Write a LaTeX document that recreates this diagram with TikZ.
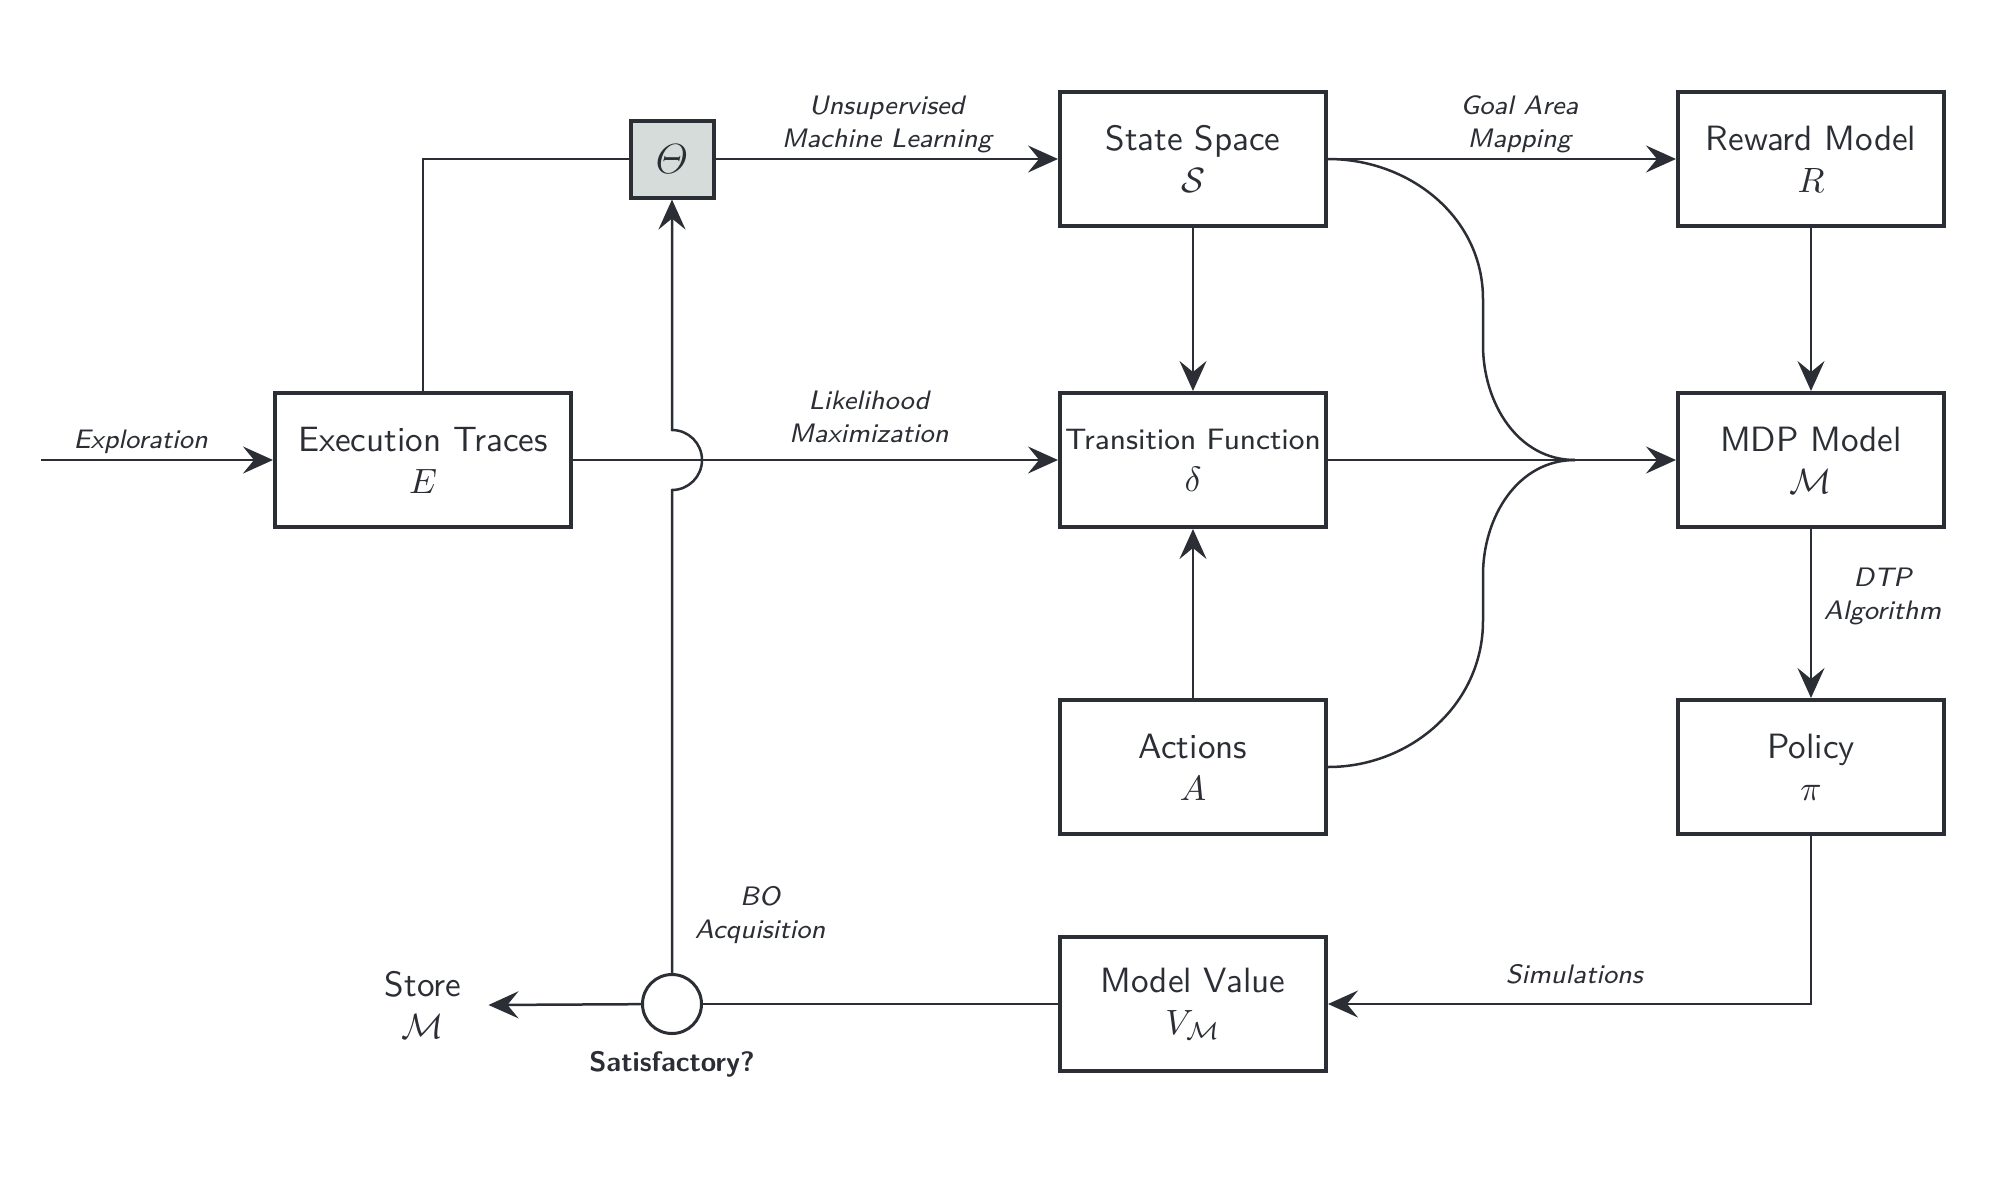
\documentclass[tikz,border=0pt]{standalone}
\usepackage{mathtools}
\usepackage{tikz}
\usetikzlibrary{arrows.meta}
\definecolor{ink}{HTML}{2B2E34}
\definecolor{thetagray}{HTML}{D6DCDA}

\begin{document}
\begin{tikzpicture}[line width=0.25mm, color=ink, >={Stealth[length=3mm,width=2.7mm,inset=1.1mm]},
              blk/.style={draw, line width=0.4mm, minimum width=2.66cm, minimum height=1.34cm, align=center, font=\sffamily},
              lbl/.style={font=\sffamily\itshape\fontsize{7.6}{9.5}\selectfont, align=center}]
              \useasboundingbox (0,0) rectangle (19.99,-11.77);

              \node[blk, minimum width=2.96cm] (exe) at (4.23,-4.60) {Execution Traces\\$E$};
              \node[blk, fill=thetagray, minimum width=0.83cm, minimum height=0.77cm, inner sep=0pt] (th) at (6.72,-1.59) {\large$\varTheta$};
              \node[blk] (ss) at (11.93,-1.59) {State Space\\$\mathcal{S}$};
              \node[blk] (rm) at (18.11,-1.59) {Reward Model\\$R$};
              \node[blk, inner xsep=0.5pt] (tf) at (11.93,-4.60) {{\fontsize{8.4}{10}\selectfont Transition Function}\\$\delta$};
              \node[blk] (mdp) at (18.11,-4.60) {MDP Model\\$\mathcal{M}$};
              \node[blk] (act) at (11.93,-7.67) {Actions\\$A$};
              \node[blk] (pol) at (18.11,-7.67) {Policy\\$\pi$};
              \node[blk] (mv) at (11.93,-10.04) {Model Value\\$V_{\mathcal{M}}$};
              \node[circle, draw, line width=0.3mm, minimum size=0.59cm, label={[font=\sffamily\bfseries\footnotesize, label distance=0.3mm]below:Satisfactory?}] (sat) at (6.72,-10.04) {};
              \node[font=\sffamily, align=center, inner xsep=0.26cm] (st) at (4.23,-10.05) {Store\\$\mathcal{M}$};
              \coordinate (expl) at (0.41,-4.60);
              \coordinate (mrg) at (15.75,-4.60);

              \draw[->] (expl) -- node[lbl, above, pos=0.43, yshift=-0.07cm] {Exploration} (exe.west);
              \draw (exe.north) |- (th.west);
              \draw[->] (th.east) -- node[lbl, above, yshift=-0.07cm] {Unsupervised\\Machine Learning} (ss.west);
              \draw[->] (exe.east) -- node[lbl, above, pos=0.61, yshift=0.04cm] {Likelihood\\Maximization} (tf.west);
              \draw[->] (ss.east) -- node[lbl, above, pos=0.55, yshift=-0.07cm] {Goal Area\\Mapping} (rm.west);
              \draw[->] (ss) -- (tf);
              \draw[->] (rm) -- (mdp);
              \draw[->] (act) -- (tf);
              \draw[->] (tf) -- (mdp);
              \draw[->] (mdp) -- node[lbl, right, pos=0.4] {DTP\\Algorithm} (pol);
              \draw[->] (pol.south) |- node[lbl, above, pos=0.745, yshift=0.07cm] {Simulations} (mv.east);
              \draw (mv) -- (sat);
              \draw[->] (sat) -- (st.east);
              \draw (ss.east) to[out=0, in=90] (14.83,-2.99) -- (14.83,-3.45) to[out=-90, in=180] (mrg);
              \draw (act.east) to[out=0, in=-90] (14.83,-6.21) -- (14.83,-5.75) to[out=90, in=180] (mrg);
              \draw[->] (sat.north) -- node[lbl, right=1mm, pos=0.12] {BO\\Acquisition} (6.72,-4.90)
                        arc[start angle=-90, end angle=90, radius=0.3] -- (th.south);
            \end{tikzpicture}
\end{document}
